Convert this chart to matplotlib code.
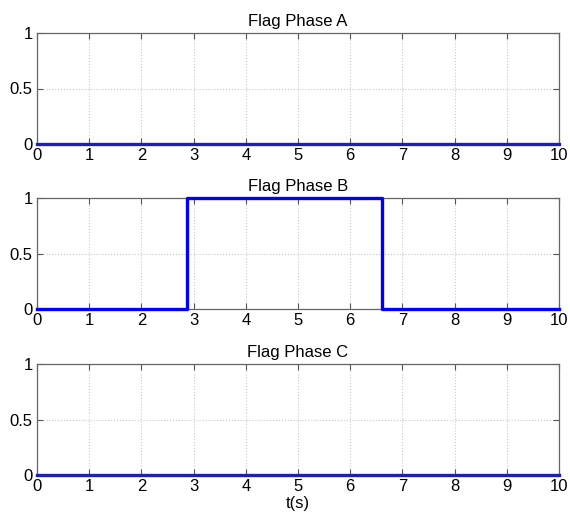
import matplotlib
matplotlib.use('Agg')
from matplotlib import pyplot as plt

plt.rcParams['font.family'] = ['Liberation Sans', 'DejaVu Sans']

# flag signals per phase (time in s, flag 0/1)
t_a = [0, 10]
flag_a = [0, 0]
t_b = [0, 2.88, 2.88, 6.61, 6.61, 10]
flag_b = [0, 0, 1, 1, 0, 0]
t_c = [0, 10]
flag_c = [0, 0]
titles = ['Flag Phase A', 'Flag Phase B', 'Flag Phase C']
xticks = list(range(0, 11))
yticks = [0, 0.5, 1]
yticklabels = ['0', '0.5', '1']

fig = plt.figure(figsize=(5.7, 5.12), dpi=100)
tops = [33, 198, 364]
h = 111
series = [(t_a, flag_a), (t_b, flag_b), (t_c, flag_c)]
for i, (ts, fs) in enumerate(series):
    ax = fig.add_axes([37 / 570, 1 - (tops[i] + h) / 512, 522 / 570, h / 512])
    ax.plot(ts, fs, color='#0000ff', lw=2.4, clip_on=False, zorder=3)
    if max(fs) == 0:
        # flat flag sits on the axis line, looks darker there
        ax.lines[-1].set_color('#2020b0')
    ax.set_xlim(0, 10)
    ax.set_ylim(0, 1)
    ax.set_xticks(xticks)
    ax.set_yticks(yticks)
    ax.set_yticklabels(yticklabels)
    ax.grid(True, linestyle=':', color='#c8c8c8', lw=0.8)
    ax.tick_params(direction='in', top=True, right=True, labelsize=12,
                   length=4, color='#555555', pad=3)
    for sp in ax.spines.values():
        sp.set_color('#666666')
        sp.set_linewidth(0.9)
    ax.set_title(titles[i], fontsize=12, pad=5)
    if i == 2:
        ax.set_xlabel('t(s)', fontsize=12, labelpad=1)

fig.savefig('out.png', dpi=100)
